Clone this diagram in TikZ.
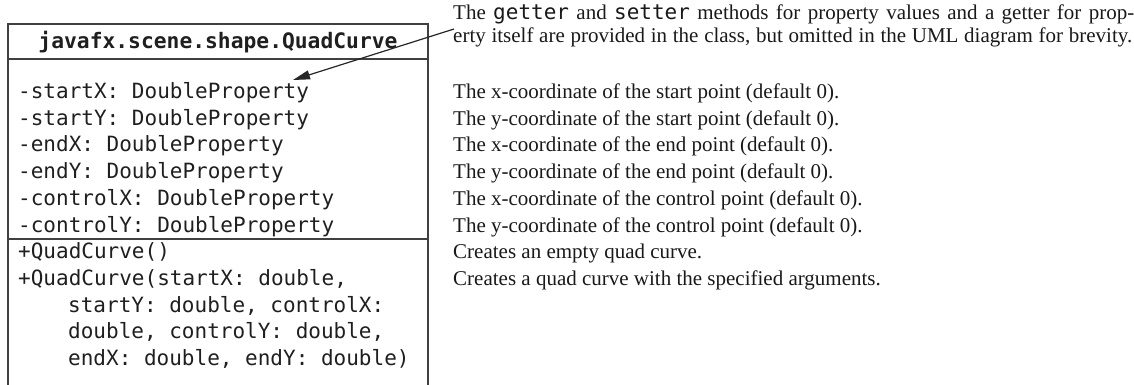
\documentclass[tikz,border=0pt]{standalone}
\usepackage{fontspec}
\setmainfont{Liberation Serif}
\newfontfamily\umlmono{DejaVu Sans Mono}
\usetikzlibrary{arrows.meta}
\begin{document}
\begin{tikzpicture}[x=1pt,y=-1pt,
  umlline/.style={draw=black!75,line width=1.3pt},
  attr/.style={anchor=base west,inner sep=0pt,text=black!88,font=\umlmono\fontsize{21}{25}\selectfont},
  titletext/.style={anchor=base,inner sep=0pt,text=black!88,font=\umlmono\bfseries\fontsize{21.3}{25}\selectfont},
  desc/.style={anchor=base west,inner sep=0pt,text=black!90,font=\fontsize{21}{25}\selectfont},
  pointer/.style={draw=black!85,line width=1.2pt,-{Triangle[length=17pt,width=9pt]}},
  ]
\useasboundingbox (0,0) rectangle (1134,385);
% class box
\draw[umlline] (8,386) -- (8,24) -- (428,24) -- (428,386);
\draw[umlline] (8,59) -- (428,59);
\draw[umlline] (8,239) -- (428,239);
\node[titletext] (title) at (218,48.5) {javafx.scene.shape.QuadCurve};
% attributes
\node[attr] (a1) at (18,98.5)  {-startX: DoubleProperty};
\node[attr] (a2) at (18,125.2) {-startY: DoubleProperty};
\node[attr] (a3) at (18,151.9) {-endX: DoubleProperty};
\node[attr] (a4) at (18,178.6) {-endY: DoubleProperty};
\node[attr] (a5) at (18,205.3) {-controlX: DoubleProperty};
\node[attr] (a6) at (18,232.0) {-controlY: DoubleProperty};
% methods
\node[attr] (m1) at (18,258.7) {+QuadCurve()};
\node[attr] (m2) at (18,285.4) {+QuadCurve(startX: double,};
\node[attr] (m3) at (68,312.1) {startY: double, controlX:};
\node[attr] (m4) at (68,338.8) {double, controlY: double,};
\node[attr] (m5) at (68,365.5) {endX: double, endY: double)};
% note
\node[desc] (n1) at (453,20) {\makebox[681pt][s]{The {\umlmono getter} and {\umlmono setter} methods for property values and a getter for prop-}};
\node[desc] (n2) at (453,43) {\makebox[679pt][s]{erty itself are provided in the class, but omitted in the UML diagram for brevity.}};
% descriptions
\node[desc] (d1) at (453,98.5)  {The x-coordinate of the start point (default 0).};
\node[desc] (d2) at (453,125.2) {The y-coordinate of the start point (default 0).};
\node[desc] (d3) at (453,151.9) {The x-coordinate of the end point (default 0).};
\node[desc] (d4) at (453,178.6) {The y-coordinate of the end point (default 0).};
\node[desc] (d5) at (453,205.3) {The x-coordinate of the control point (default 0).};
\node[desc] (d6) at (453,232.0) {The y-coordinate of the control point (default 0).};
\node[desc] (d7) at (453,258.7) {Creates an empty quad curve.};
\node[desc] (d8) at (453,285.4) {Creates a quad curve with the specified arguments.};
% pointer
\coordinate (ptrstart) at (454,29);
\coordinate (ptrtip) at (293,80);
\draw[pointer] (ptrstart) -- (ptrtip);
\end{tikzpicture}
\end{document}
